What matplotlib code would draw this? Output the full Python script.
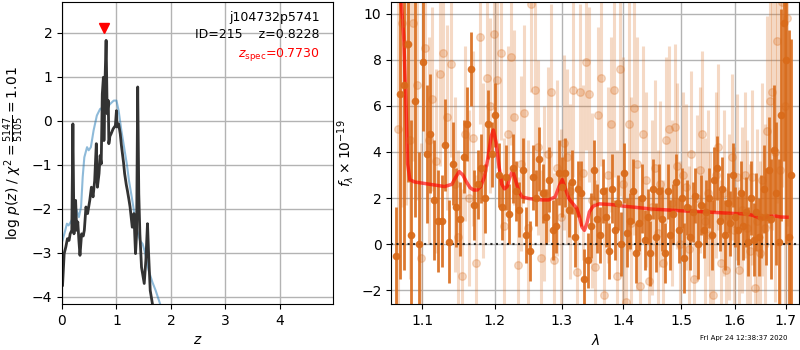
import numpy as np
import matplotlib
matplotlib.use("Agg")
import matplotlib.pyplot as plt
from matplotlib.ticker import NullLocator, FixedLocator, FixedFormatter

# ---------------- left panel: p(z) ----------------
pz_z = [0.01, 0.04, 0.07, 0.10, 0.13, 0.15, 0.18, 0.20, 0.22, 0.25, 0.27, 0.29, 0.31, 0.33,
        0.36, 0.39, 0.41, 0.44, 0.47, 0.51, 0.54, 0.57, 0.60, 0.63, 0.65, 0.68, 0.70, 0.72,
        0.74, 0.76, 0.77, 0.79, 0.81, 0.83, 0.85, 0.86, 0.88, 0.90, 0.94, 0.98, 1.00, 1.01,
        1.04, 1.07, 1.09, 1.11, 1.13, 1.15, 1.18, 1.20, 1.23, 1.25, 1.29, 1.32, 1.35, 1.37,
        1.39, 1.41, 1.43, 1.46, 1.51, 1.54, 1.57, 1.59, 1.62, 1.66, 1.70]
pz_logp = [-3.74, -3.02, -2.87, -2.68, -2.72, -2.57, -2.49, -0.07, -2.57, -1.81, -2.49, -2.30,
           -2.72, -3.06, -2.57, -2.62, -2.49, -1.96, -2.11, -1.81, -1.51, -1.73, -1.36, -0.52,
           -1.51, -1.20, -0.79, -0.98, 0.61, 0.99, -0.45, 0.92, 1.83, 0.16, 0.46, -0.52,
           -0.35, -0.30, -0.18, -0.11, 0.23, -0.14, -0.07, -0.30, -0.55, -0.75, -0.95, -1.20,
           -1.45, -1.58, -1.80, -1.96, -2.42, -2.11, -3.02, -2.57, 0.77, -1.66, -2.57, -3.33,
           -3.70, -3.17, -2.34, -3.02, -3.86, -4.16, -4.80]

prior_z = [0.01, 0.06, 0.09, 0.12, 0.16, 0.21, 0.26, 0.31, 0.35, 0.38, 0.41, 0.46, 0.49, 0.53,
           0.58, 0.64, 0.70, 0.77, 0.83, 0.89, 0.95, 1.00, 1.04, 1.09, 1.14, 1.19, 1.23, 1.28,
           1.33, 1.38, 1.43, 1.48, 1.53, 1.59, 1.66, 1.72, 1.80, 1.88, 2.00]
prior_logp = [-2.72, -2.49, -2.34, -2.38, -2.30, -2.19, -2.00, -2.19, -1.96, -1.28, -0.83,
              -0.60, -0.67, -0.60, -0.22, 0.12, 0.27, 0.31, 0.31, 0.39, 0.46, 0.46, 0.23,
              -0.22, -0.60, -0.98, -1.36, -1.73, -2.11, -2.49, -2.72, -2.80, -3.02, -3.40,
              -3.67, -3.86, -4.16, -4.54, -5.20]

z_spec = 0.7730
z_spec_marker_y = 2.1
obj_name = "j104732p5741"
obj_id = 215
z_best = 0.8228
chi2_num, chi2_den, chi2_red = 5147, 5105, 1.01

# ---------------- right panel: spectrum ----------------
dark_wave_start, dark_wave_step, dark_n = 1.066, 0.005, 130
dark_flux = [-0.5, 6.5, 6.9, 8.7, 0.4, 6.2, 0.0, 7.9, 3.9, 4.8,
             1.9, 1.0, 1.0, 4.3, 0.1, 3.5, 1.6, 1.1, 3.8, 5.2,
             7.6, 1.7, 2.6, 3.3, 2.0, 5.2, 3.9, 5.6, 3.0, 1.6,
             2.9, 1.3, 3.3, 2.3, 1.5, 3.2, 0.4, -0.3, 2.9, 2.0,
             3.7, 2.2, 1.2, 2.8, 0.6, 0.8, 3.1, 2.5, 3.1, 1.5,
             2.7, 0.3, 2.4, 2.2, -1.5, -0.7, 0.8, 3.2, 1.1, 0.4,
             2.3, 1.2, -0.3, 2.4, 0.6, 1.8, 0.0, 3.1, 0.5, 1.0,
             2.3, -0.4, 0.9, 2.0, 0.2, 1.2, -0.4, 2.4, 0.3, 2.3,
             1.1, -0.4, 2.3, 0.4, 1.3, 2.7, 0.6, 2.0, -0.6, 1.6,
             0.3, 1.4, 2.1, 0.0, 1.7, 0.6, 1.4, 2.0, 0.4, 2.8,
             3.3, 1.0, 2.4, 0.4, 1.8, 0.9, 3.0, 1.2, 0.6, 2.2,
             0.8, 1.4, 0.1, 2.0, 0.2, 1.4, 0.3, 1.2, 2.4, 1.2,
             3.2, 1.1, 4.1, 2.2, 0.1, 5.6, 9.6, 8.0, 0.3, 3.0]
dark_err = [2.1, 8.0, 8.0, 6.0, 5.0, 5.0, 4.0, 3.0, 3.0, 2.6,
            2.6, 2.2, 2.0, 2.0, 1.8, 1.8, 1.7, 1.6, 1.6, 1.6,
            1.6, 1.5, 1.5, 1.5, 1.5, 1.5, 1.4, 1.4, 1.4, 1.4,
            1.4, 1.3, 1.5, 1.3, 1.2, 1.4, 1.2, 1.3, 1.4, 1.2,
            1.4, 1.3, 1.2, 1.4, 1.3, 1.2, 1.4, 1.3, 1.5, 1.2,
            1.4, 1.3, 1.2, 1.4, 1.3, 1.2, 1.4, 1.3, 1.5, 1.2,
            1.4, 1.3, 1.2, 1.5, 1.3, 1.2, 1.4, 1.3, 1.5, 1.2,
            1.4, 1.3, 1.2, 1.5, 1.3, 1.2, 1.4, 1.3, 1.5, 1.2,
            1.4, 1.3, 1.2, 1.5, 1.3, 1.2, 1.4, 1.3, 1.5, 1.2,
            1.4, 1.3, 1.2, 1.5, 1.3, 1.2, 1.4, 1.3, 1.5, 1.4,
            1.4, 1.3, 1.4, 1.5, 1.3, 1.4, 1.4, 1.3, 1.5, 1.4,
            1.5, 1.5, 1.5, 1.6, 1.6, 1.7, 1.7, 1.8, 1.9, 2.1,
            2.3, 2.6, 2.8, 3.1, 3.6, 4.6, 6.0, 8.0, 9.0, 5.9]

light_wave_start, light_wave_step, light_n = 1.0685, 0.005, 128
light_flux = [5.0, 9.6, 8.7, 4.5, 9.6, 6.9, -0.6, 8.5, 4.5, 6.3,
              3.6, 7.4, 8.3, 5.5, 7.8, 2.6, 0.3, -1.4, 4.8, 2.0,
              4.6, -0.8, 9.0, 3.2, 7.2, 6.0, 9.1, 7.1, 8.3, 0.8,
              4.8, 8.1, 5.5, -0.9, 3.5, 5.7, 0.7, 10.4, 6.7, 4.2,
              -0.6, 2.2, 3.9, 6.6, -0.7, 3.3, 1.2, 4.4, 3.8, 2.3,
              6.7, -1.2, 6.6, 3.1, 7.9, 6.5, 1.9, -1.0, 5.6, 7.2,
              -2.2, 3.0, 5.2, 6.7, -1.4, 7.6, 2.6, -2.5, 5.2, 0.9,
              5.9, 3.5, -1.8, 4.8, 2.8, -1.6, 1.6, 3.3, 0.5, 2.6,
              -0.8, 4.5, 5.0, 1.8, 5.1, 3.4, 0.0, 3.0, 2.5, -0.2,
              3.9, -1.5, 2.0, 3.2, 4.8, 1.0, 2.2, 0.4, -2.2, 3.0,
              4.2, -0.8, 2.2, -1.1, 1.2, 3.8, 0.6, 2.9, -1.1, 1.5,
              3.0, 0.7, -0.3, 2.9, -1.9, 1.0, -0.4, 2.8, 0.7, 4.9,
              6.2, 6.6, 4.0, 8.8, 3.2, 10.5, 6.0, 9.8]
light_err = [8.0, 8.0, 7.0, 6.0, 6.0, 5.0, 5.0, 4.5, 4.5, 4.0,
             4.0, 4.0, 4.0, 4.0, 4.0, 3.8, 3.8, 3.8, 3.8, 3.8,
             3.8, 3.8, 3.8, 3.8, 3.8, 3.8, 3.8, 3.8, 3.8, 3.8,
             3.8, 3.8, 3.8, 3.8, 3.8, 3.8, 3.8, 3.8, 3.8, 3.8,
             3.8, 3.8, 3.8, 3.8, 3.8, 3.8, 3.8, 3.8, 3.8, 3.8,
             3.8, 3.8, 3.8, 3.8, 3.8, 3.8, 3.8, 3.8, 3.8, 3.8,
             3.8, 3.8, 3.8, 3.8, 5.5, 5.5, 5.5, 5.5, 5.5, 5.5,
             5.5, 5.5, 3.8, 3.8, 3.8, 3.8, 3.8, 3.8, 3.6, 3.6,
             3.6, 3.6, 3.6, 3.6, 3.6, 3.6, 3.6, 3.6, 3.6, 3.6,
             3.6, 3.6, 3.6, 3.6, 3.6, 3.6, 3.6, 3.6, 3.6, 3.6,
             3.6, 3.6, 3.6, 3.6, 3.6, 3.6, 3.6, 3.6, 3.6, 3.6,
             3.6, 3.8, 3.8, 3.8, 3.8, 4.0, 4.0, 4.2, 4.5, 5.0,
             5.5, 6.0, 6.5, 7.0, 7.5, 8.0, 9.0, 9.0]

model_wave = [1.072, 1.076, 1.079, 1.081, 1.084, 1.09, 1.10, 1.11, 1.12, 1.13, 1.14, 1.145,
              1.15, 1.155, 1.16, 1.165, 1.17, 1.175, 1.18, 1.185, 1.19, 1.195, 1.198, 1.202,
              1.206, 1.21, 1.214, 1.218, 1.222, 1.226, 1.23, 1.235, 1.24, 1.25, 1.26, 1.27,
              1.28, 1.29, 1.296, 1.301, 1.306, 1.312, 1.318, 1.324, 1.328, 1.332, 1.336, 1.34,
              1.344, 1.35, 1.36, 1.38, 1.40, 1.42, 1.45, 1.48, 1.50, 1.53, 1.56, 1.60, 1.62,
              1.635, 1.645, 1.655, 1.665, 1.68, 1.69, 1.703]
model_flux = [10.8, 9.0, 6.0, 3.5, 2.8, 2.7, 2.65, 2.6, 2.55, 2.5, 2.6, 2.9,
              3.15, 3.0, 2.7, 2.45, 2.35, 2.35, 2.5, 2.9, 3.7, 4.7, 4.95, 4.4,
              3.4, 2.6, 2.4, 2.5, 2.9, 3.2, 2.8, 2.3, 2.05, 1.98, 1.95, 1.92,
              1.92, 2.05, 2.5, 2.8, 2.4, 1.95, 1.75, 1.55, 1.2, 0.75, 0.6, 0.9,
              1.4, 1.65, 1.75, 1.72, 1.65, 1.6, 1.52, 1.48, 1.45, 1.42, 1.38, 1.33, 1.32,
              1.25, 1.15, 1.12, 1.2, 1.22, 1.18, 1.17]

wave_ticks = [1.1, 1.2, 1.3, 1.4, 1.5, 1.6, 1.7]
wave_tick_labels = ["1.1", "1.2", "1.3", "1.4", "1.5", "1.6", "1.7"]
timestamp = "Fri Apr 24 12:38:37 2020"

dark_wave = dark_wave_start + dark_wave_step * np.arange(dark_n)
light_wave = light_wave_start + light_wave_step * np.arange(light_n)

orange = (0.85, 0.42, 0.10)

fig = plt.figure(figsize=(8, 3.5), dpi=100)
ax1 = fig.add_axes([0.0775, 0.131, 0.339, 0.863])
ax2 = fig.add_axes([0.489, 0.131, 0.510, 0.863])

# left
ax1.plot(prior_z, prior_logp, color='#1f77b4', alpha=0.5, lw=1.5)
ax1.plot(pz_z, pz_logp, color='0.2', lw=2, alpha=1)
ax1.plot([z_spec], [z_spec_marker_y], marker='v', color='red', markersize=7, ls='none')
ax1.set_xlim(0, 4.98)
ax1.set_ylim(-4.17, 2.7)
ax1.set_xticks([0, 1, 2, 3, 4])
ax1.set_yticks([-4, -3, -2, -1, 0, 1, 2])
ax1.grid(True, color='0.7', lw=1)
ax1.set_axisbelow(True)
ax1.set_xlabel(r'$z$')
ax1.set_ylabel(r'log $p(z)$ / $\chi^2=\frac{%d}{%d}=%.2f$' % (chi2_num, chi2_den, chi2_red))
ax1.text(0.95, 0.97, obj_name, ha='right', va='top', transform=ax1.transAxes, fontsize=9)
ax1.text(0.95, 0.915, 'ID=%d    z=%.4f' % (obj_id, z_best), ha='right', va='top',
         transform=ax1.transAxes, fontsize=9)
ax1.text(0.95, 0.855, r'$z_\mathrm{spec}$=%.4f' % z_spec, ha='right', va='top',
         transform=ax1.transAxes, fontsize=9, color='red')

# right
ax2.errorbar(light_wave, light_flux, yerr=light_err, color=orange, alpha=0.25,
             marker='o', markersize=5.5, ls='none', elinewidth=2.2)
ax2.errorbar(dark_wave, dark_flux, yerr=dark_err, color=orange, alpha=0.9,
             marker='o', markersize=4.5, ls='none', elinewidth=2.0)
ax2.plot(model_wave, model_flux, color='red', lw=2.5, alpha=0.65)
ax2.axhline(0, color='k', ls=':', lw=1.5, alpha=0.8)
ax2.set_xscale('log')
ax2.set_xlim(1.06, 1.728)
ax2.set_ylim(-2.6, 10.5)
ax2.xaxis.set_minor_locator(NullLocator())
ax2.xaxis.set_major_locator(FixedLocator(wave_ticks))
ax2.xaxis.set_major_formatter(FixedFormatter(wave_tick_labels))
ax2.set_yticks([-2, 0, 2, 4, 6, 8, 10])
ax2.grid(True, color='0.7', lw=1)
ax2.set_axisbelow(True)
ax2.set_xlabel(r'$\lambda$')
ax2.set_ylabel(r'$f_\lambda\times10^{-19}$')

fig.text(0.985, 0.025, timestamp, ha='right', va='bottom', fontsize=5)

fig.savefig('out.png', dpi=100)
